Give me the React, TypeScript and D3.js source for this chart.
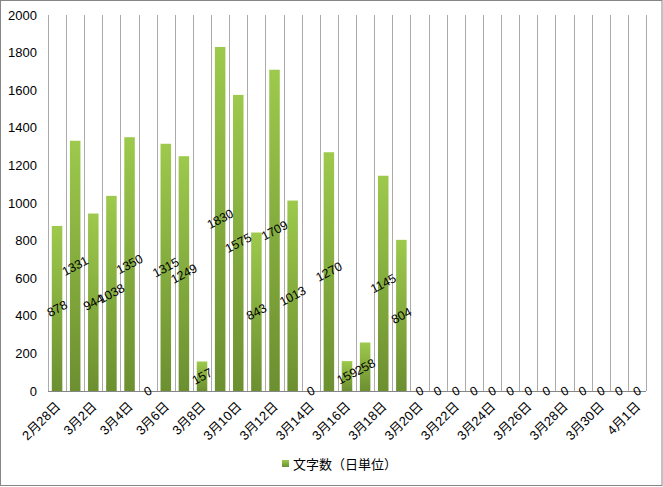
import { useEffect, useRef } from 'react';
import * as d3 from 'd3';

const days = [
  '2月28日', '3月1日', '3月2日', '3月3日', '3月4日', '3月5日', '3月6日', '3月7日',
  '3月8日', '3月9日', '3月10日', '3月11日', '3月12日', '3月13日', '3月14日', '3月15日',
  '3月16日', '3月17日', '3月18日', '3月19日', '3月20日', '3月21日', '3月22日', '3月23日',
  '3月24日', '3月25日', '3月26日', '3月27日', '3月28日', '3月29日', '3月30日', '3月31日',
  '4月1日',
];
const charCounts = [
  878, 1331, 944, 1038, 1350, 0, 1315, 1249,
  157, 1830, 1575, 843, 1709, 1013, 0, 1270,
  159, 258, 1145, 804, 0, 0, 0, 0,
  0, 0, 0, 0, 0, 0, 0, 0,
  0,
];
const yTicks = [0, 200, 400, 600, 800, 1000, 1200, 1400, 1600, 1800, 2000];
const seriesName = '文字数（日単位）';

const W = 663;
const H = 487;
const font = '"Liberation Sans", "Noto Sans CJK JP", sans-serif';

export default function App() {
  const svgRef = useRef<SVGSVGElement>(null);

  useEffect(() => {
    if (!svgRef.current) return;
    const svg = d3.select(svgRef.current);
    svg.selectAll('*').remove();

    const margin = { top: 15, right: 17, bottom: 96, left: 48 };
    const innerWidth = W - margin.left - margin.right;
    const innerHeight = H - margin.top - margin.bottom;

    const defs = svg.append('defs');
    const grad = defs
      .append('linearGradient')
      .attr('id', 'barGrad')
      .attr('x1', 0)
      .attr('y1', 0)
      .attr('x2', 0)
      .attr('y2', 1);
    grad.append('stop').attr('offset', '0%').attr('stop-color', '#9dc94c');
    grad.append('stop').attr('offset', '100%').attr('stop-color', '#6c8f30');

    svg
      .append('rect')
      .attr('x', 0.5)
      .attr('y', 0.5)
      .attr('width', W - 1.5)
      .attr('height', H - 2)
      .attr('fill', '#fff')
      .attr('stroke', '#868686');

    const x = d3
      .scaleBand()
      .domain(days)
      .range([0, innerWidth])
      .paddingInner(0.42)
      .paddingOuter(0.21);

    const y = d3.scaleLinear().domain([0, 2000]).range([innerHeight, 0]);

    const g = svg
      .append('g')
      .attr('transform', `translate(${margin.left},${margin.top})`);

    const step = x.step();

    // vertical gridlines between categories
    g.append('g')
      .selectAll('line')
      .data(d3.range(days.length + 1))
      .join('line')
      .attr('x1', (i) => Math.round(i * step) + 0.5)
      .attr('x2', (i) => Math.round(i * step) + 0.5)
      .attr('y1', 0)
      .attr('y2', innerHeight)
      .attr('stroke', '#ababab')
      .attr('stroke-width', 1);

    // bars
    g.append('g')
      .selectAll('rect')
      .data(days)
      .join('rect')
      .attr('x', (d) => x(d)!)
      .attr('y', (d, i) => y(charCounts[i]))
      .attr('width', x.bandwidth())
      .attr('height', (d, i) => innerHeight - y(charCounts[i]))
      .attr('fill', 'url(#barGrad)');

    // x axis line
    g.append('line')
      .attr('x1', 0)
      .attr('x2', innerWidth)
      .attr('y1', innerHeight + 0.5)
      .attr('y2', innerHeight + 0.5)
      .attr('stroke', '#868686');

    // y tick labels
    g.append('g')
      .selectAll('text')
      .data(yTicks)
      .join('text')
      .attr('x', -11)
      .attr('y', (d) => y(d))
      .attr('dy', '0.35em')
      .attr('text-anchor', 'end')
      .attr('font-family', font)
      .attr('font-size', 13)
      .attr('fill', '#000')
      .text((d) => d);

    // x labels, every other category
    g.append('g')
      .selectAll('text')
      .data(days.filter((d, i) => i % 2 === 0))
      .join('text')
      .attr(
        'transform',
        (d) => `translate(${x(d)! + x.bandwidth() / 2 + 1},${innerHeight + 13}) rotate(-45)`
      )
      .attr('text-anchor', 'end')
      .attr('dy', '0.35em')
      .attr('font-family', font)
      .attr('font-size', 13)
      .attr('fill', '#000')
      .text((d) => d);

    // data labels at bar middle
    g.append('g')
      .selectAll('text')
      .data(days)
      .join('text')
      .attr(
        'transform',
        (d, i) =>
          `translate(${x(d)! + x.bandwidth() / 2},${y(charCounts[i] / 2)}) rotate(-28)`
      )
      .attr('text-anchor', 'middle')
      .attr('dy', '0.35em')
      .attr('font-family', font)
      .attr('font-size', 12.5)
      .attr('fill', '#000')
      .text((d, i) => charCounts[i]);

    // legend
    const legend = svg.append('g').attr('transform', `translate(282,460)`);
    legend
      .append('rect')
      .attr('width', 7)
      .attr('height', 7)
      .attr('fill', 'url(#barGrad)');
    legend
      .append('text')
      .attr('x', 11)
      .attr('y', 4)
      .attr('dy', '0.35em')
      .attr('font-family', font)
      .attr('font-size', 13)
      .attr('fill', '#000')
      .text(seriesName);
  }, []);

  return (
    <svg
      ref={svgRef}
      width={W}
      height={H}
      style={{ position: 'absolute', left: 0, top: 0 }}
    />
  );
}
